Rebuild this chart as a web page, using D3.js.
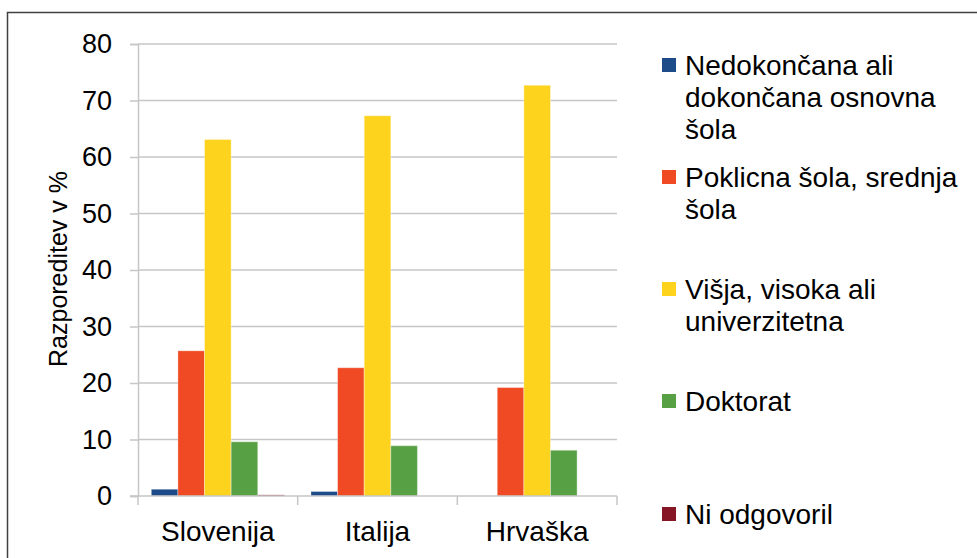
<!DOCTYPE html>
<html>
<head>
<meta charset="utf-8">
<script src="https://cdn.jsdelivr.net/npm/d3@7/dist/d3.min.js"></script>
<style>
  html, body { margin: 0; padding: 0; background: #fff; }
  svg { display: block; font-family: "Liberation Sans", Arial, sans-serif; }
</style>
</head>
<body>
<svg id="chart" width="977" height="558"></svg>
<script>
const categories = ["Slovenija", "Italija", "Hrvaška"];
const seriesNames = [
  "Nedokončana ali dokončana osnovna šola",
  "Poklicna šola, srednja šola",
  "Višja, visoka ali univerzitetna",
  "Doktorat",
  "Ni odgovoril"
];
const legendLines = [
  ["Nedokončana ali", "dokončana osnovna", "šola"],
  ["Poklicna šola, srednja", "šola"],
  ["Višja, visoka ali", "univerzitetna"],
  ["Doktorat"],
  ["Ni odgovoril"]
];
const seriesColors = ["#1d4b8a", "#ef4a23", "#fdd31d", "#58a044", "#861626"];
// values[series][category]
const valNedokoncana = [1.2, 0.8, 0];
const valPoklicna = [25.7, 22.7, 19.2];
const valVisja = [63.1, 67.3, 72.7];
const valDoktorat = [9.6, 8.9, 8.1];
const valNiOdgovoril = [0.2, 0, 0];
const seriesValues = [valNedokoncana, valPoklicna, valVisja, valDoktorat, valNiOdgovoril];
const yTicks = [0, 10, 20, 30, 40, 50, 60, 70, 80];
const yLabel = "Razporeditev v %";

(function () {
const svg = d3.select("#chart");

// outer border
svg.append("rect")
  .attr("x", 7.5).attr("y", 12.5)
  .attr("width", 1100).attr("height", 700)
  .attr("fill", "none").attr("stroke", "#404040").attr("stroke-width", 1.5);

const pL = 138, pR = 617, pT = 44, pB = 496;

const x0 = d3.scaleBand().domain(categories).range([pL, pR]).padding(0);
const bw = x0.bandwidth();
const x1 = d3.scaleBand().domain(d3.range(seriesNames.length)).range([bw / 12, bw * 11 / 12]).padding(0);
const y = d3.scaleLinear().domain([0, 80]).range([pB, pT]);

const gridColor = "#c6c6c6";

// y ticks
const yAxis = d3.axisLeft(y).tickValues(yTicks).tickSize(8).tickFormat(d3.format("d")).tickPadding(18);
const gy = svg.append("g").attr("transform", `translate(${pL},0)`).call(yAxis);
gy.select(".domain").attr("stroke", gridColor).attr("stroke-width", 1.5);
gy.selectAll(".tick line").attr("stroke", gridColor).attr("stroke-width", 1.5);
gy.selectAll(".tick text").attr("font-size", 27).attr("fill", "#000")
  .attr("font-family", "'Liberation Sans', Arial, sans-serif");

// gridlines
const grid = svg.append("g");
grid.selectAll("line").data(yTicks.filter(d => d > 0)).join("line")
  .attr("x1", pL).attr("x2", pR)
  .attr("y1", d => y(d)).attr("y2", d => y(d))
  .attr("stroke", gridColor).attr("stroke-width", 1.5);

// bars
const groups = svg.append("g").selectAll("g").data(categories).join("g")
  .attr("transform", c => `translate(${x0(c)},0)`);
groups.selectAll("rect")
  .data((c, ci) => seriesValues.map((vals, si) => ({ si, v: vals[ci] })))
  .join("rect")
  .attr("x", d => x1(d.si))
  .attr("width", x1.bandwidth())
  .attr("y", d => y(d.v))
  .attr("height", d => y(0) - y(d.v))
  .attr("fill", d => seriesColors[d.si])
  .attr("stroke", "rgba(255,255,255,0.35)")
  .attr("stroke-width", d => d.v > 0 ? 1 : 0);

// x axis
const xAxis = d3.axisBottom(x0).tickSize(0).tickPadding(25);
const gx = svg.append("g").attr("transform", `translate(0,${pB})`).call(xAxis);
gx.select(".domain").remove();
gx.selectAll(".tick text").attr("font-size", 28).attr("fill", "#000")
  .attr("font-family", "'Liberation Sans', Arial, sans-serif");
gx.append("line").attr("x1", pL - 8).attr("x2", pR).attr("y1", 0).attr("y2", 0)
  .attr("stroke", gridColor).attr("stroke-width", 1.5);
const bounds = categories.map(c => x0(c)).concat([x0(categories[categories.length - 1]) + bw]);
gx.selectAll(".bound").data(bounds).join("line").attr("class", "bound")
  .attr("x1", d => d).attr("x2", d => d).attr("y1", 0).attr("y2", 9)
  .attr("stroke", gridColor).attr("stroke-width", 1.5);

// y label
svg.append("text")
  .attr("transform", `translate(67,269) rotate(-90)`)
  .attr("text-anchor", "middle")
  .attr("font-size", 25).attr("fill", "#000")
  .text(yLabel);

// legend
const legendMid = [65, 177, 289, 401, 514];
const lg = svg.append("g");
legendLines.forEach((lines, i) => {
  const cy = legendMid[i];
  lg.append("rect").attr("x", 662).attr("y", cy - 7).attr("width", 14).attr("height", 14)
    .attr("fill", seriesColors[i]);
  const t = lg.append("text").attr("x", 685).attr("y", cy + 10).attr("font-size", 28).attr("fill", "#000");
  lines.forEach((ln, j) => {
    t.append("tspan").attr("x", 685).attr("dy", j === 0 ? 0 : 32).text(ln);
  });
});
})();
</script>
</body>
</html>
